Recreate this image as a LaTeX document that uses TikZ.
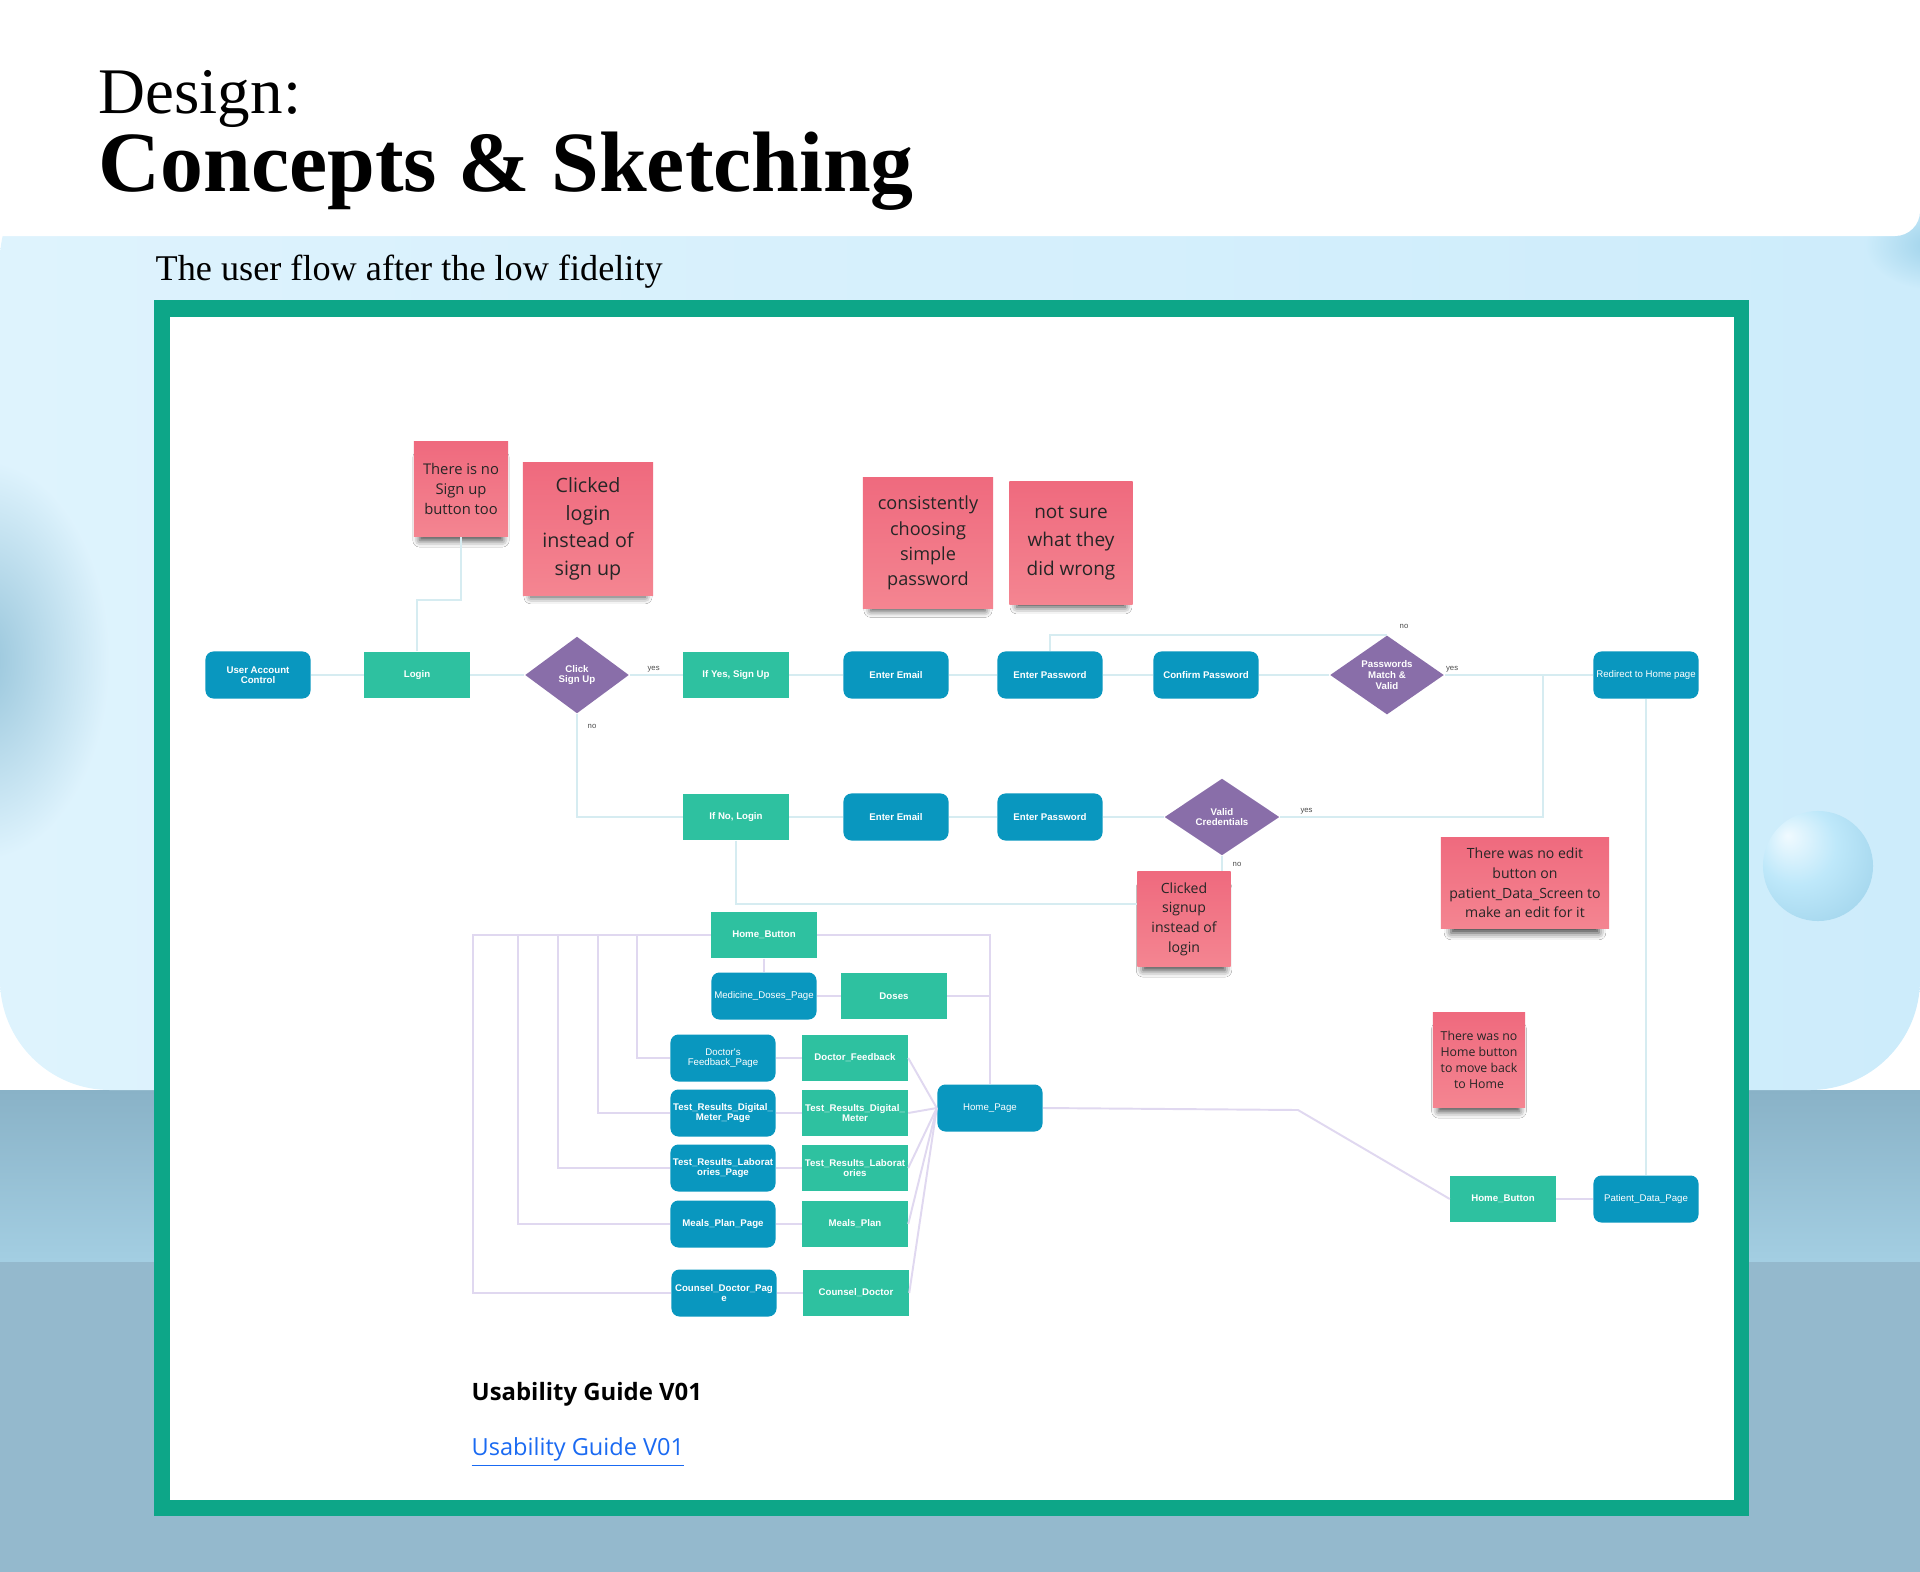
\documentclass[tikz,border=0pt]{standalone}
\usepackage{fontspec}
\setmainfont{Liberation Serif}
\newfontfamily\boxfont{Liberation Sans}
\newfontfamily\notefont{Open Sans}
\usetikzlibrary{shapes.geometric,shadows.blur}
\definecolor{pageblue}{RGB}{9,151,191}
\definecolor{actgreen}{RGB}{46,193,160}
\definecolor{choicepurple}{RGB}{137,110,169}
\definecolor{notepink}{RGB}{239,106,126}
\definecolor{notelight}{RGB}{244,133,145}
\definecolor{frame}{RGB}{13,166,136}
\definecolor{flowline}{RGB}{214,236,241}
\definecolor{navline}{RGB}{224,216,240}
\definecolor{skytop}{RGB}{222,243,253}
\definecolor{skyright}{RGB}{205,236,251}
\definecolor{bandtop}{RGB}{137,178,199}
\definecolor{bandlow}{RGB}{163,206,226}
\definecolor{floor}{RGB}{148,185,205}
\definecolor{blobcore}{RGB}{150,196,218}
\definecolor{bubblecore}{RGB}{240,250,255}
\definecolor{bubblemid}{RGB}{190,232,250}
\definecolor{bubbleedge}{RGB}{158,210,234}
\definecolor{linkblue}{RGB}{26,106,242}
\pgfdeclareradialshading{bubble}{\pgfpoint{-14bp}{14bp}}{color(0bp)=(bubblecore); color(18bp)=(bubblemid); color(40bp)=(bubbleedge); color(60bp)=(bubbleedge)}

\tikzset{
  boxtext/.style={font=\boxfont\fontsize{2.75}{3.0}\selectfont\bfseries},
  thintext/.style={font=\boxfont\fontsize{2.75}{3.0}\selectfont},
  page/.style={fill=pageblue, rounded corners=0.08cm, text=white, minimum width=1.05cm, minimum height=0.47cm, inner sep=0pt, align=center, boxtext},
  act/.style={fill=actgreen, text=white, minimum width=1.05cm, minimum height=0.46cm, inner sep=0pt, align=center, boxtext},
  choice/.style={diamond, fill=choicepurple, text=white, minimum width=1.04cm, minimum height=0.77cm, inner sep=0pt, align=center, boxtext},
  sticky/.style={top color=notepink, bottom color=notelight, text=black!85, inner sep=0pt, align=center,
    blur shadow={shadow xshift=0pt, shadow yshift=-3.2pt, shadow opacity=75, shadow scale=0.88, shadow blur radius=2.2pt}},
  flow/.style={draw=flowline, line width=0.55pt},
  nav/.style={draw=navline, line width=0.55pt},
  tag/.style={font=\boxfont\fontsize{2.2}{2.4}\selectfont, text=black!70, inner sep=0.5pt}
}

\begin{document}
\begin{tikzpicture}[x=0.01cm, y=-0.01cm]
    \useasboundingbox (0,0) rectangle (1920,1572);

    % Backdrop
    \fill[floor] (0,1090) rectangle (1920,1572);
    \shade[top color=bandtop, bottom color=bandlow] (0,1090) rectangle (1920,1261);
    \shade[left color=skytop, right color=skyright, rounded corners=1.1cm] (0,150) rectangle (1920,1090);
    \shade[inner color=blobcore, outer color=skytop] (-20,660) ellipse [x radius=1.3cm, y radius=2.0cm];
    \shade[inner color=bubbleedge, outer color=skyright] (1935,245) ellipse [x radius=0.7cm, y radius=0.45cm];
    \fill[white, rounded corners=0.25cm] (-30,-30) rectangle (1920,236);
    \shade[shading=bubble] (1818,866) circle [radius=0.55cm];

    % Headings
    \node[anchor=base west, inner sep=0pt, font=\fontsize{18.5}{20}\selectfont] (design) at (98,113) {Design:};
    \node[anchor=base west, inner sep=0pt, font=\fontsize{24.4}{26}\selectfont\bfseries] (concepts) at (98,191) {Concepts \& Sketching};
    \node[anchor=base west, inner sep=0pt, font=\fontsize{10.3}{12}\selectfont] (subtitle) at (155,280) {The user flow after the low fidelity};

    % Frame
    \fill[frame] (154,300) rectangle (1749,1516);
    \fill[white] (170,317) rectangle (1734,1500);

    % Sign up flow
    \node[page] (uac) at (258,675) {User Account\\Control};
    \node[act] (login) at (417,675) {Login};
    \node[choice] (click) at (577,675) {Click\\Sign Up};
    \node[act] (ifyes) at (736,675) {If Yes, Sign Up};
    \node[page] (email1) at (896,675) {Enter Email};
    \node[page] (pass1) at (1050,675) {Enter Password};
    \node[page] (confirm) at (1206,675) {Confirm Password};
    \node[choice, minimum width=1.14cm] (match) at (1387,675) {Passwords\\Match \&\\Valid};
    \node[page, thintext] (redirect) at (1646,675) {Redirect to Home page};

    % Login flow
    \node[act] (ifno) at (736,817) {If No, Login};
    \node[page] (email2) at (896,817) {Enter Email};
    \node[page] (pass2) at (1050,817) {Enter Password};
    \node[choice, minimum width=1.15cm] (valid) at (1222,817) {Valid\\Credentials};
    \coordinate (merge) at (1543,675);

    % Sticky notes
    \node[sticky, minimum width=0.94cm, minimum height=0.94cm, font=\notefont\fontsize{4.2}{5.7}\selectfont] (signnote) at (461,489) {There is no\\Sign up\\button too};
    \node[sticky, minimum width=1.30cm, minimum height=1.32cm, font=\notefont\fontsize{5.6}{7.8}\selectfont] (loginnote) at (588,529) {Clicked\\login\\instead of\\sign up};
    \node[sticky, minimum width=1.30cm, minimum height=1.31cm, font=\notefont\fontsize{5.15}{7.2}\selectfont] (simplenote) at (928,543) {consistently\\choosing\\simple\\password};
    \node[sticky, minimum width=1.23cm, minimum height=1.23cm, font=\notefont\fontsize{5.4}{8}\selectfont] (wrongnote) at (1071,543) {not sure\\what they\\did wrong};
    \node[sticky, minimum width=0.93cm, minimum height=0.94cm, font=\notefont\fontsize{4.0}{5.6}\selectfont] (signupnote) at (1184,919) {Clicked\\signup\\instead of\\login};
    \node[sticky, minimum width=1.68cm, minimum height=0.91cm, font=\notefont\fontsize{4.0}{5.6}\selectfont] (editnote) at (1525,883) {There was no edit\\button on\\patient\_Data\_Screen to\\make an edit for it};
    \node[sticky, minimum width=0.92cm, minimum height=0.94cm, font=\notefont\fontsize{3.5}{4.6}\selectfont] (homenote) at (1479,1060) {There was no\\Home button\\to move back\\to Home};

    % Patient screens
    \node[act] (homebtn) at (764,935) {Home\_Button};
    \node[page, thintext] (medpage) at (764,996) {Medicine\_Doses\_Page};
    \node[act] (doses) at (894,996) {Doses};
    \node[page, thintext] (feedbackpage) at (723,1058) {Doctor's\\Feedback\_Page};
    \node[act] (feedback) at (855,1058) {Doctor\_Feedback};
    \node[page] (meterpage) at (723,1113) {Test\_Results\_Digital\_\\Meter\_Page};
    \node[act] (meter) at (855,1113) {Test\_Results\_Digital\_\\Meter};
    \node[page] (labpage) at (723,1168) {Test\_Results\_Laborat\\ories\_Page};
    \node[act] (lab) at (855,1168) {Test\_Results\_Laborat\\ories};
    \node[page] (mealspage) at (723,1224) {Meals\_Plan\_Page};
    \node[act] (meals) at (855,1224) {Meals\_Plan};
    \node[page] (counselpage) at (724,1293) {Counsel\_Doctor\_Pag\\e};
    \node[act] (counsel) at (856,1293) {Counsel\_Doctor};
    \node[page, thintext] (homepage) at (990,1108) {Home\_Page};
    \node[act] (homebtn2) at (1503,1199) {Home\_Button};
    \node[page, thintext] (patient) at (1646,1199) {Patient\_Data\_Page};

    % Connections
    \foreach \a/\b in {uac/login, login/click, ifyes/email1, email1/pass1, pass1/confirm, confirm/match, ifno/email2, email2/pass2, pass2/valid}
        \draw[flow] (\a) -- (\b);
    \draw[flow] (login.north) -- ++(0,-51) -| (signnote.south);
    \draw[flow] (click) -- node[tag, above, pos=0.45] {yes} (ifyes);
    \draw[flow] (click.south) |- node[tag, right, pos=0.06, xshift=0.08cm] {no} (ifno.west);
    \draw[flow] (pass1.north) |- (match.north) node[tag, anchor=south west, xshift=0.1cm, yshift=0.03cm] {no};
    \draw[flow] (match) -- node[tag, above, pos=0.05] {yes} (redirect);
    \draw[flow] (valid.east) -| node[tag, above, pos=0.05] {yes} (merge);
    \draw[flow] (valid.south) -- node[tag, right, pos=0.55, xshift=0.08cm] {no} (valid.south |- signupnote.north);
    \draw[flow] (ifno.south) |- ([yshift=0.15cm]signupnote.west);
    \draw[flow] (redirect) -- (patient);

    % Navigation
    \foreach \lane/\target in {473/counselpage, 518/mealspage, 558/labpage, 598/meterpage, 637/feedbackpage}
        \draw[nav] (homebtn.west) -- (\lane,935) |- (\target.west);
    \draw[nav] (homebtn.east) -| (homepage.north);
    \draw[nav] (doses.east) -| (homepage.north);
    \draw[nav] (homebtn) -- (medpage);
    \draw[nav] (medpage) -- (doses);
    \foreach \a/\b in {feedbackpage/feedback, meterpage/meter, labpage/lab, mealspage/meals, counselpage/counsel}
        \draw[nav] (\a) -- (\b);
    \foreach \b in {feedback, meter, lab, meals, counsel}
        \draw[nav] (\b.east) -- (homepage.west);
    \draw[nav] (homepage.east) -- (1298,1110) -- (homebtn2.west);
    \draw[nav] (homebtn2) -- (patient);

    % Guide
    \node[anchor=base west, inner sep=0pt, font=\notefont\fontsize{6.8}{8}\selectfont\bfseries] (guidehead) at (471,1400) {Usability Guide V01};
    \node[anchor=base west, inner sep=0pt, text=linkblue, font=\notefont\fontsize{6.7}{8}\selectfont] (guidelink) at (471,1455) {\underline{Usability Guide V01}};
\end{tikzpicture}
\end{document}
